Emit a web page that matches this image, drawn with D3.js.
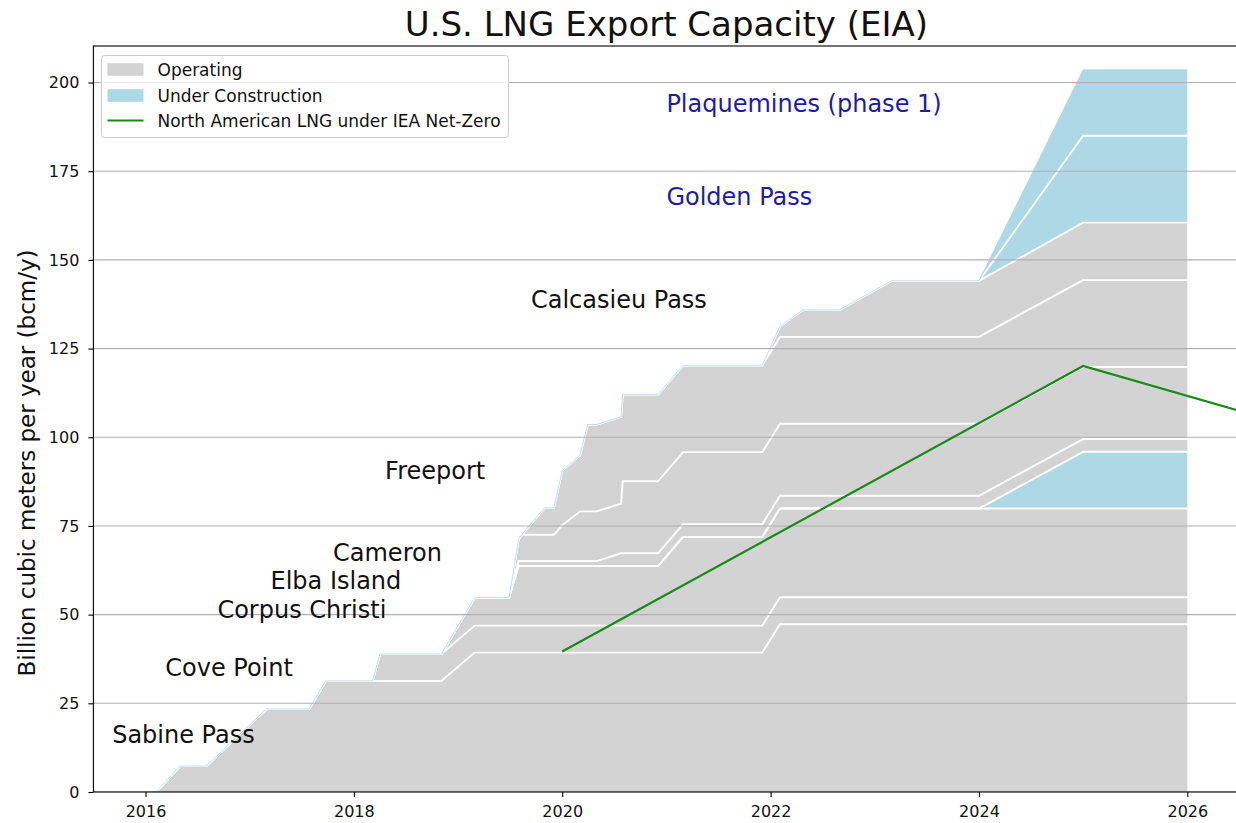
<!DOCTYPE html>
<html>
<head>
<meta charset="utf-8">
<script src="https://cdn.jsdelivr.net/npm/d3@7"></script>
<style>
  html, body { margin: 0; padding: 0; background: #ffffff; }
  svg { display: block; font-family: "DejaVu Sans", sans-serif; }
</style>
</head>
<body>
<svg id="chart" width="1236" height="823"></svg>
<script>
// ---------------- DATA ----------------
// Dates (decimal years) at which the stacked capacity series are sampled
const dates = [2016.00, 2016.10, 2016.33, 2016.58, 2017.16, 2017.57, 2017.73, 2018.18,
               2018.25, 2018.84, 2019.16, 2019.49, 2019.58, 2019.61, 2019.83, 2019.92,
               2020.00, 2020.17, 2020.245, 2020.33, 2020.565, 2020.58, 2020.92, 2021.16,
               2021.92, 2022.09, 2022.31, 2022.66, 2023.16, 2024.00, 2025.00, 2026.00];

// Capacity per terminal, billion cubic meters per year (bcm/y)
const sabinePass      = [0, 0, 7.3, 7.3, 23.4, 23.4, 31.3, 31.3, 31.3, 31.3, 39.3, 39.3, 39.3, 39.3, 39.3, 39.3,
                         39.3, 39.3, 39.3, 39.3, 39.3, 39.3, 39.3, 39.3, 39.3, 47.3, 47.3, 47.3, 47.3, 47.3, 47.3, 47.3];
const covePoint       = [0, 0, 0, 0, 0, 0, 0, 0, 7.6, 7.6, 7.6, 7.6, 7.6, 7.6, 7.6, 7.6,
                         7.6, 7.6, 7.6, 7.6, 7.6, 7.6, 7.6, 7.6, 7.6, 7.6, 7.6, 7.6, 7.6, 7.6, 7.6, 7.6];
const corpusChristi   = [0, 0, 0, 0, 0, 0, 0, 0, 0, 0, 7.9, 7.9, 16.8, 16.8, 16.8, 16.8,
                         16.8, 16.8, 16.8, 16.8, 16.8, 16.8, 16.8, 25.0, 25.0, 25.0, 25.0, 25.0, 25.0, 25.0, 25.0, 25.0];
const corpusStage3    = [0, 0, 0, 0, 0, 0, 0, 0, 0, 0, 0, 0, 0, 0, 0, 0,
                         0, 0, 0, 0, 0, 0, 0, 0, 0, 0, 0, 0, 0, 0, 16.0, 16.0];
const elbaIsland      = [0, 0, 0, 0, 0, 0, 0, 0, 0, 0, 0, 0, 1.4, 1.4, 1.4, 1.4,
                         1.4, 1.4, 1.4, 1.4, 3.6, 3.6, 3.6, 3.6, 3.6, 3.6, 3.6, 3.6, 3.6, 3.6, 3.6, 3.6];
const cameron         = [0, 0, 0, 0, 0, 0, 0, 0, 0, 0, 0, 0, 6.0, 7.4, 7.4, 7.4,
                         10.1, 14.0, 14.0, 14.0, 14.0, 20.3, 20.3, 20.3, 20.3, 20.3, 20.3, 20.3, 20.3, 20.3, 20.3, 20.3];
const freeport        = [0, 0, 0, 0, 0, 0, 0, 0, 0, 0, 0, 0, 0, 0, 7.6, 7.6,
                         15.4, 15.8, 24.5, 24.5, 24.5, 24.5, 24.5, 24.5, 24.5, 24.5, 24.5, 24.5, 24.5, 24.5, 24.5, 24.5];
const calcasieuPass   = [0, 0, 0, 0, 0, 0, 0, 0, 0, 0, 0, 0, 0, 0, 0, 0,
                         0, 0, 0, 0, 0, 0, 0, 0, 0, 3.0, 7.6, 7.6, 15.8, 15.8, 16.2, 16.2];
const goldenPass      = [0, 0, 0, 0, 0, 0, 0, 0, 0, 0, 0, 0, 0, 0, 0, 0,
                         0, 0, 0, 0, 0, 0, 0, 0, 0, 0, 0, 0, 0, 0, 24.5, 24.5];
const plaquemines     = [0, 0, 0, 0, 0, 0, 0, 0, 0, 0, 0, 0, 0, 0, 0, 0,
                         0, 0, 0, 0, 0, 0, 0, 0, 0, 0, 0, 0, 0, 0, 18.6, 18.6];

const seriesKeys   = ["Sabine Pass", "Cove Point", "Corpus Christi", "Corpus Christi Stage 3", "Elba Island",
                      "Cameron", "Freeport", "Calcasieu Pass", "Golden Pass", "Plaquemines (phase 1)"];
const seriesData   = [sabinePass, covePoint, corpusChristi, corpusStage3, elbaIsland,
                      cameron, freeport, calcasieuPass, goldenPass, plaquemines];
const seriesStatus = ["Operating", "Operating", "Operating", "Under Construction", "Operating",
                      "Operating", "Operating", "Operating", "Under Construction", "Under Construction"];

// IEA Net-Zero North American LNG line
const netZeroYears  = [2020, 2025, 2030];
const netZeroValues = [39.6, 120.1, 78.0];

// In-chart project labels (data coordinates of the text baseline start)
const labelNames  = ["Sabine Pass", "Cove Point", "Corpus Christi", "Elba Island", "Cameron",
                     "Freeport", "Calcasieu Pass", "Golden Pass", "Plaquemines (phase 1)"];
const labelYears  = [2015.68, 2016.19, 2016.69, 2017.20, 2017.80, 2018.30, 2019.70, 2021.00, 2021.00];
const labelValues = [13.8, 32.7, 49.1, 57.2, 65.1, 88.1, 136.5, 165.5, 191.7];
const labelStatus = ["Operating", "Operating", "Operating", "Operating", "Operating",
                     "Operating", "Operating", "Under Construction", "Under Construction"];

const xTicks = [2016, 2018, 2020, 2022, 2024, 2026];
const yTicks = [0, 25, 50, 75, 100, 125, 150, 175, 200];

const legendLabels = ["Operating", "Under Construction", "North American LNG under IEA Net-Zero"];

// ---------------- STYLE ----------------
const colors = { "Operating": "#d3d3d3", "Under Construction": "#add8e6" };
const labelColors = { "Operating": "#111111", "Under Construction": "#1c1ca4" };
const lineColor = "#168c16";

// ---------------- LAYOUT ----------------
const svg = d3.select("#chart");
const plot = { left: 93.4, right: 1239.4, top: 46, bottom: 792 };

const x = d3.scaleLinear().domain([2015.5, 2026.5]).range([plot.left, plot.right]);
const y = d3.scaleLinear().domain([0, 210.3]).range([plot.bottom, plot.top]);

svg.append("defs").append("clipPath").attr("id", "clip")
  .append("rect").attr("x", plot.left).attr("y", plot.top)
  .attr("width", plot.right - plot.left).attr("height", plot.bottom - plot.top);

// stacked data
const rows = dates.map((d, i) => {
  const r = { date: d };
  seriesKeys.forEach((k, j) => { r[k] = seriesData[j][i]; });
  return r;
});
const stacked = d3.stack().keys(seriesKeys)(rows);

const gPlot = svg.append("g").attr("clip-path", "url(#clip)");

const area = d3.area()
  .x(d => x(d.data.date))
  .y0(d => y(d[0]))
  .y1(d => y(d[1]));

gPlot.selectAll("path.layer").data(stacked).enter().append("path")
  .attr("class", "layer")
  .attr("d", area)
  .attr("fill", (d, i) => colors[seriesStatus[i]])
  .attr("stroke", "none");

// white separating edges
const topLine = d3.line().x(d => x(d.data.date)).y(d => y(d[1]));
gPlot.selectAll("path.edge").data(stacked.slice(0, stacked.length - 1)).enter().append("path")
  .attr("class", "edge")
  .attr("d", topLine)
  .attr("fill", "none")
  .attr("stroke", "#ffffff")
  .attr("stroke-width", 1.9)
  .attr("stroke-linejoin", "round");

// faint light-blue outline along the top envelope (zero-height under-construction layers)
gPlot.append("path")
  .attr("d", topLine(stacked[stacked.length - 1]))
  .attr("fill", "none")
  .attr("stroke", "#add8e6")
  .attr("stroke-width", 1)
  .attr("stroke-opacity", 0.8);

// horizontal gridlines
gPlot.selectAll("line.grid").data(yTicks).enter().append("line")
  .attr("class", "grid")
  .attr("x1", plot.left).attr("x2", plot.right)
  .attr("y1", d => y(d)).attr("y2", d => y(d))
  .attr("stroke", "#b0b0b0")
  .attr("stroke-width", 1.1);

// net-zero line
const nzLine = d3.line().x((d, i) => x(netZeroYears[i])).y(d => y(d));
gPlot.append("path")
  .attr("d", nzLine(netZeroValues))
  .attr("fill", "none")
  .attr("stroke", lineColor)
  .attr("stroke-width", 2.2);

// project labels
svg.append("g").selectAll("text").data(labelNames).enter().append("text")
  .attr("x", (d, i) => x(labelYears[i]))
  .attr("y", (d, i) => y(labelValues[i]))
  .attr("font-size", 24)
  .attr("fill", (d, i) => labelColors[labelStatus[i]])
  .text(d => d);

// axes
const xAxis = d3.axisBottom(x).tickValues(xTicks).tickFormat(d3.format("d")).tickSize(5).tickPadding(9);
const yAxis = d3.axisLeft(y).tickValues(yTicks).tickFormat(d3.format("d")).tickSize(5).tickPadding(9);

const gx = svg.append("g").attr("transform", `translate(0,${plot.bottom})`).call(xAxis);
const gy = svg.append("g").attr("transform", `translate(${plot.left},0)`).call(yAxis);
[gx, gy].forEach(g => {
  g.select(".domain").remove();
  g.selectAll(".tick line").attr("stroke", "#000").attr("stroke-width", 1.1);
  g.selectAll(".tick text").attr("font-size", 16).attr("fill", "#111")
    .attr("font-family", "DejaVu Sans, sans-serif");
});

// frame
svg.append("rect")
  .attr("x", plot.left).attr("y", plot.top)
  .attr("width", plot.right - plot.left).attr("height", plot.bottom - plot.top)
  .attr("fill", "none").attr("stroke", "#000").attr("stroke-width", 1.1);

// title
svg.append("text")
  .attr("x", (plot.left + plot.right) / 2).attr("y", 36)
  .attr("text-anchor", "middle").attr("font-size", 34).attr("fill", "#111")
  .text("U.S. LNG Export Capacity (EIA)");

// y label
svg.append("text")
  .attr("transform", "translate(35,463) rotate(-90)")
  .attr("text-anchor", "middle").attr("font-size", 23).attr("fill", "#111")
  .text("Billion cubic meters per year (bcm/y)");

// legend
const lg = svg.append("g");
lg.append("rect")
  .attr("x", 101.5).attr("y", 55.5).attr("width", 407).attr("height", 82).attr("rx", 3)
  .attr("fill", "#ffffff").attr("fill-opacity", 0.8)
  .attr("stroke", "#cccccc").attr("stroke-width", 1);
const legendRowY = [69.5, 95.5, 120.5];
lg.append("rect").attr("x", 107.5).attr("y", legendRowY[0] - 6.3).attr("width", 36).attr("height", 12.6)
  .attr("fill", colors["Operating"]);
lg.append("rect").attr("x", 107.5).attr("y", legendRowY[1] - 6.3).attr("width", 36).attr("height", 12.6)
  .attr("fill", colors["Under Construction"]);
lg.append("line").attr("x1", 107.5).attr("x2", 143.5).attr("y1", legendRowY[2]).attr("y2", legendRowY[2])
  .attr("stroke", lineColor).attr("stroke-width", 2.2);
lg.selectAll("text.leg").data(legendLabels).enter().append("text")
  .attr("class", "leg")
  .attr("x", 157.5).attr("y", (d, i) => legendRowY[i] + 6)
  .attr("font-size", 17).attr("fill", "#111")
  .text(d => d);
</script>
</body>
</html>
